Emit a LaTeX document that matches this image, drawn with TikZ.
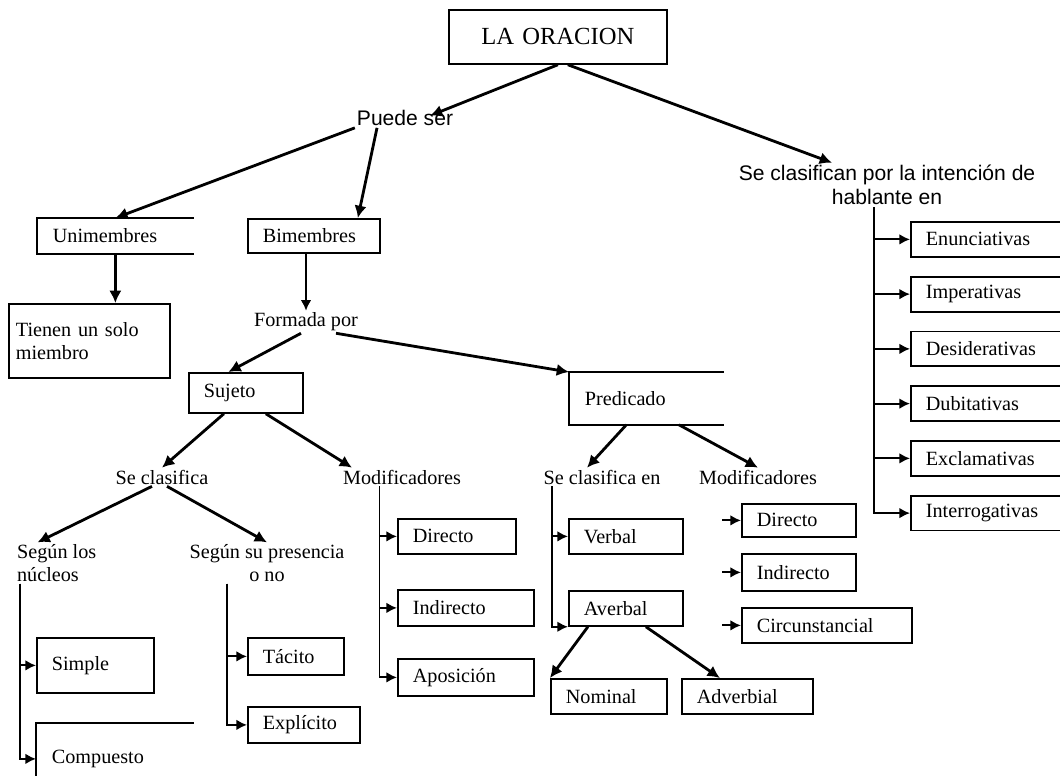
\documentclass[tikz,border=0pt]{standalone}
\usepackage{fontspec}
\setmainfont{Liberation Serif}
\newfontfamily\labelsans{Liberation Sans}
\usepackage{tikz}
\usetikzlibrary{positioning,arrows.meta}

\begin{document}
\begin{tikzpicture}[x=0.02cm,y=-0.02cm,
  box/.style={draw=black,line width=1pt,anchor=north west,inner xsep=0.3cm,
    inner ysep=0pt,align=left,font=\fontsize{11.5}{13}\selectfont},
  word/.style={inner sep=1pt,align=center,font=\fontsize{11.5}{13}\selectfont},
  sansword/.style={inner sep=1pt,align=center,font=\labelsans\fontsize{12}{14}\selectfont},
  link/.style={-{Latex[length=7pt,width=7pt]},line width=1.6pt},
  branch/.style={-{Latex[length=6pt,width=6pt]},line width=1.1pt}]
\clip (0,0) rectangle (1060,775);

% top
\node[box,align=center,text width=3.76cm,minimum height=1.08cm,
  font=\fontsize{14}{16}\selectfont] (oracion) at (448,9) {LA ORACION};
\node[sansword] (puede) at (405,118) {Puede ser};
\node[sansword] (clasif) at (887,185) {Se clasifican por la intención de\\hablante en};

% unimembres / bimembres
\node[box,text width=2.5cm,minimum height=0.68cm,draw=none] (uni) at (37,218) {Unimembres};
\node[box,text width=2.04cm,minimum height=0.68cm] (bi) at (247,218) {Bimembres};
\node[box,inner xsep=0.14cm,text width=2.94cm,minimum height=1.48cm] (tienen) at (8,303) {Tienen un solo\\miembro};
\node[word] (formada) at (306,322) {Formada por};
\node[box,text width=1.68cm,minimum height=0.8cm] (sujeto) at (188,372) {Sujeto};
\node[box,text width=2.46cm,minimum height=1.02cm,draw=none] (pred) at (569,372) {Predicado};

% sujeto
\node[word] (seclas) at (162,477) {Se clasifica};
\node[word] (modsuj) at (402,477) {Modificadores};
\node[word,anchor=west,align=left] (nucleos) at (15,563) {Según los\\núcleos};
\node[word] (presencia) at (267,563) {Según su presencia\\o no};
\node[box,text width=1.74cm,minimum height=1.1cm] (simple) at (36,637) {Simple};
\node[box,text width=2.52cm,minimum height=1.4cm,draw=none] (compuesto) at (36,723) {Compuesto};
\node[box,text width=1.32cm,minimum height=0.74cm] (tacito) at (247,637) {Tácito};
\node[box,text width=1.64cm,minimum height=0.72cm] (explicito) at (247,706) {Explícito};
\node[box,text width=1.76cm,minimum height=0.7cm] (directo) at (397,518) {Directo};
\node[box,text width=2.12cm,minimum height=0.72cm] (indirecto) at (397,589) {Indirecto};
\node[box,text width=2.12cm,minimum height=0.74cm] (aposicion) at (397,658) {Aposición};

% predicado
\node[word] (seclasen) at (602,477) {Se clasifica en};
\node[word] (modpred) at (758,477) {Modificadores};
\node[box,text width=1.68cm,minimum height=0.7cm] (verbal) at (568,518) {Verbal};
\node[box,text width=1.68cm,minimum height=0.7cm] (averbal) at (568,590) {Averbal};
\node[box,text width=1.72cm,minimum height=0.7cm] (nominal) at (550,678) {Nominal};
\node[box,text width=2.02cm,minimum height=0.7cm] (adverbial) at (681,678) {Adverbial};
\node[box,text width=1.68cm,minimum height=0.66cm] (objdir) at (741,503) {Directo};
\node[box,text width=1.68cm,minimum height=0.74cm] (objind) at (741,553) {Indirecto};
\node[box,text width=2.8cm,minimum height=0.7cm] (circ) at (741,607) {Circunstancial};

% intencion del hablante
\node[box,text width=3cm,minimum height=0.7cm] (enun) at (910,221) {Enunciativas};
\node[box,text width=3cm,minimum height=0.7cm,below=0.36cm of enun] (imper) {Imperativas};
\node[box,text width=3cm,minimum height=0.7cm,below=0.36cm of imper] (desid) {Desiderativas};
\node[box,text width=3cm,minimum height=0.7cm,below=0.36cm of desid] (dubit) {Dubitativas};
\node[box,text width=3cm,minimum height=0.7cm,below=0.36cm of dubit] (exclam) {Exclamativas};
\node[box,text width=3cm,minimum height=0.7cm,below=0.36cm of exclam] (interr) {Interrogativas};

% open boxes
\draw[line width=1pt] (uni.north east) -| (uni.south west) -- (uni.south east);
\draw[line width=1pt] (pred.north east) -| (pred.south west) -- (pred.south east);
\draw[line width=1pt] (compuesto.north east) -| (compuesto.south west) -- (compuesto.south east);

% connectors
\draw[link] (oracion.south) -- ([xshift=0.5cm,yshift=-0.15cm]puede.north);
\draw[link] ([xshift=0.2cm]oracion.south) -- ([xshift=-1.1cm]clasif.north);
\draw[link] (puede.south west) -- (uni.north);
\draw[link] ([xshift=-0.56cm]puede.south) -- ([xshift=0.88cm]bi.north);
\draw[link,line width=2pt] (uni.south) -- (uni.south |- tienen.north);
\draw[branch] (formada.north |- bi.south) -- (formada.north);
\draw[link] ([xshift=-0.1cm]formada.south) -- ([xshift=-0.35cm]sujeto.north);
\draw[link] ([xshift=0.6cm]formada.south) -- (pred.north west);
\draw[link] ([xshift=-0.44cm]sujeto.south) -- (seclas.north);
\draw[link] ([xshift=0.4cm]sujeto.south) -- ([xshift=-1cm]modsuj.north);
\draw[link] ([xshift=-0.2cm]seclas.south) -- ([xshift=0.45cm]nucleos.north west);
\draw[link] ([xshift=0.1cm]seclas.south) -- (presencia.north);
\draw[branch] ([xshift=0.1cm]nucleos.south west) |- (simple.west);
\draw[branch] ([xshift=0.1cm]nucleos.south west) |- (compuesto.west);
\draw[branch] ([xshift=-0.8cm]presencia.south) |- (tacito.west);
\draw[branch] ([xshift=-0.8cm]presencia.south) |- (explicito.west);
\foreach \n in {directo,indirecto,aposicion}
  \draw[branch] ([xshift=-0.45cm]modsuj.south) |- (\n.west);
\draw[link] ([xshift=-0.4cm]pred.south) -- ([xshift=-0.3cm]seclasen.north);
\draw[link] ([xshift=0.65cm]pred.south) -- (modpred.north);
\draw[branch] ([xshift=-1cm]seclasen.south) |- (verbal.west);
\draw[branch] ([xshift=-1cm]seclasen.south) |- (averbal.south west);
\draw[link] ([xshift=-0.76cm]averbal.south) -- (nominal.north west);
\draw[link] ([xshift=0.4cm]averbal.south) -- ([xshift=-0.55cm]adverbial.north);
\foreach \n in {objdir,objind,circ}
  \draw[branch] ([xshift=-0.38cm]\n.west) -- (\n.west);
\foreach \n in {enun,imper,desid,dubit,exclam,interr}
  \draw[branch] ([xshift=-0.26cm]clasif.south) |- (\n.west);
\end{tikzpicture}
\end{document}
